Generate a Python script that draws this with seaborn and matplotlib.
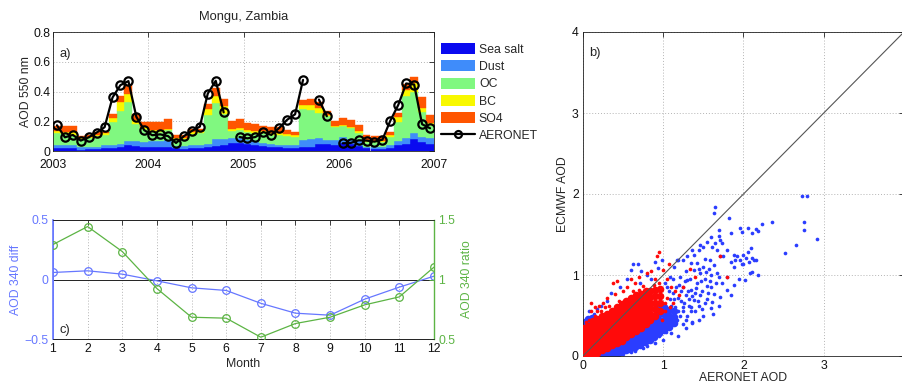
import numpy as np
import pandas as pd
import matplotlib
matplotlib.use("Agg")
import matplotlib.pyplot as plt
import seaborn as sns
from matplotlib.patches import Patch
from matplotlib.lines import Line2D

sns.set_theme(style="white")
plt.rcParams["font.family"] = ["Liberation Sans", "DejaVu Sans"]
plt.rcParams["font.size"] = 8.8

# ---------------- data: panel a (monthly stacked AOD 550, 2003-2006) ----------------
year_ticks = [2003, 2004, 2005, 2006, 2007]
components = ["Sea salt", "Dust", "OC", "BC", "SO4"]
sea_salt = [.020, .020, .020, .010, .012, .015, .020, .020, .030, .040, .035, .030,
            .025, .025, .025, .020, .016, .018, .020, .025, .034, .040, .052, .052,
            .047, .040, .034, .030, .025, .022, .022, .030, .030, .050, .050, .040,
            .056, .047, .034, .018, .016, .016, .022, .040, .047, .080, .063, .050]
dust = [.020, .020, .020, .015, .013, .015, .020, .020, .020, .030, .030, .030,
        .045, .045, .050, .015, .018, .020, .020, .025, .044, .043, .033, .033,
        .027, .030, .022, .017, .018, .018, .016, .046, .050, .035, .024, .034,
        .040, .036, .040, .011, .009, .011, .016, .030, .040, .040, .033, .035]
oc = [.080, .075, .070, .055, .060, .070, .070, .155, .220, .260, .115, .090,
      .060, .060, .065, .040, .044, .076, .083, .190, .242, .167, .050, .056,
      .056, .053, .063, .061, .065, .060, .054, .209, .196, .173, .161, .090,
      .072, .069, .049, .034, .035, .035, .058, .127, .280, .280, .169, .090]
bc = [.015, .010, .015, .010, .010, .010, .010, .030, .060, .050, .030, .010,
      .010, .010, .010, .010, .009, .014, .014, .040, .050, .050, .011, .011,
      .011, .012, .013, .011, .012, .012, .013, .025, .034, .029, .007, .004,
      .009, .012, .009, .007, .006, .006, .009, .029, .045, .055, .022, .011]
so4 = [.030, .040, .040, .010, .010, .015, .010, .025, .040, .065, .040, .035,
       .055, .055, .065, .025, .023, .018, .013, .035, .055, .050, .059, .061,
       .044, .045, .038, .041, .040, .029, .020, .035, .042, .043, .028, .037,
       .045, .046, .041, .035, .034, .032, .025, .032, .040, .040, .073, .056]
aeronet = [.173, .092, .108, .070, .092, .124, .160, .360, .443, .470, .230, .140,
           .106, .112, .100, .054, .100, .135, .164, .386, .472, .260, np.nan, .094,
           .085, .094, .128, .108, .155, .210, .247, .478, np.nan, .346, .234, np.nan,
           .052, .054, .072, .070, .063, .076, .204, .310, .454, .447, .180, .153]
comp_colors = {"Sea salt": "#0a0af0", "Dust": "#3f8cfa", "OC": "#80f880",
               "BC": "#f8f800", "SO4": "#ff5500"}

# ---------------- data: panel c (monthly AOD 340 diff / ratio) ----------------
months = [1, 2, 3, 4, 5, 6, 7, 8, 9, 10, 11, 12]
aod340_diff = [0.059, 0.073, 0.045, -0.011, -0.070, -0.092, -0.200, -0.283, -0.300, -0.165, -0.064, 0.028]
aod340_ratio = [1.294, 1.445, 1.235, 0.924, 0.683, 0.675, 0.515, 0.630, 0.683, 0.787, 0.854, 1.104]

# ---------------- data: panel b (ECMWF vs AERONET AOD scatter) ----------------
one_to_one = [0, 4]
blue_core = [
    (0.17, [0.00, 0.03]), (0.23, [0.01, 0.04, 0.07]), (0.29, [0.01, 0.05, 0.09]),
    (0.35, [0.02, 0.06, 0.10, 0.13]), (0.41, [0.03, 0.07, 0.11, 0.15]),
    (0.47, [0.05, 0.09, 0.13, 0.17]), (0.53, [0.07, 0.11, 0.15, 0.20, 0.24]),
    (0.59, [0.09, 0.13, 0.18, 0.23, 0.27]), (0.65, [0.11, 0.16, 0.21, 0.26, 0.31]),
    (0.71, [0.14, 0.19, 0.24, 0.29, 0.34]), (0.77, [0.17, 0.22, 0.27, 0.32, 0.38]),
    (0.83, [0.20, 0.25, 0.31, 0.37, 0.43]), (0.89, [0.24, 0.29, 0.35, 0.41, 0.47]),
    (0.95, [0.28, 0.33, 0.39, 0.45, 0.52, 0.60]), (1.01, [0.32, 0.38, 0.45, 0.52, 0.60]),
    (1.07, [0.36, 0.43, 0.50, 0.57]), (1.13, [0.41, 0.48, 0.55]),
    (0.02, [0.38, 0.42]), (0.06, [0.42, 0.46]), (0.11, [0.47]),
]
blue_sparse = [
    (2.73, 1.97), (2.79, 1.97), (2.76, 1.65), (2.75, 1.56), (2.92, 1.44), (2.65, 1.37), (2.52, 1.27),
    (1.65, 1.84), (1.63, 1.76), (1.82, 1.70), (2.35, 1.65), (2.23, 1.63), (2.16, 1.57), (2.11, 1.52),
    (2.18, 1.54), (2.05, 1.58), (1.96, 1.58), (1.98, 1.53), (1.84, 1.52), (1.69, 1.55), (1.69, 1.48),
    (1.59, 1.47), (1.55, 1.41), (1.71, 1.43), (1.73, 1.39), (1.65, 1.39), (1.61, 1.35), (1.46, 1.37),
    (1.50, 1.35), (1.44, 1.31), (1.36, 1.31), (1.38, 1.25), (1.30, 1.23), (1.25, 1.19),
    (1.88, 1.25), (1.92, 1.23), (1.96, 1.19), (1.98, 1.14), (1.90, 1.19), (1.99, 1.25), (2.03, 1.21),
    (2.05, 1.29), (2.00, 1.14), (1.88, 1.10), (1.84, 1.16), (2.07, 1.16), (2.09, 1.33), (2.11, 1.21),
    (2.13, 1.19), (2.16, 1.19), (2.11, 1.04), (2.18, 1.00), (2.02, 0.94),
    (1.79, 1.31), (1.75, 1.23), (1.67, 1.31), (1.71, 1.23), (1.58, 1.19), (1.63, 1.12), (1.50, 1.10),
    (1.57, 1.08), (1.46, 1.02), (1.67, 1.02), (1.79, 0.98), (1.73, 0.90), (1.55, 0.86), (1.63, 0.77),
    (1.46, 0.75), (1.71, 0.73), (1.34, 0.82), (1.38, 0.69), (1.25, 0.61), (1.17, 0.45), (1.25, 0.40),
    (1.36, 0.41), (1.79, 0.81), (1.88, 0.88), (1.61, 0.67), (1.59, 0.59), (1.38, 1.06), (1.30, 0.94),
    (1.21, 0.98), (1.17, 1.19), (1.13, 1.10), (1.09, 0.98), (0.90, 1.16), (0.94, 1.09), (0.98, 1.18),
    (1.19, 1.19), (1.05, 0.85), (1.12, 0.78), (1.20, 0.88), (1.28, 0.75), (1.33, 0.95), (1.42, 0.90),
    (1.45, 0.62), (1.52, 0.95), (1.40, 0.55), (1.30, 0.50), (1.22, 0.68), (1.15, 0.60), (1.08, 0.70),
    (1.02, 0.90), (1.35, 0.60), (1.48, 0.80), (1.55, 0.70), (1.25, 0.85), (1.42, 1.15), (1.28, 1.05),
    (1.12, 0.95), (1.52, 1.20), (1.60, 1.00), (1.18, 0.55), (1.32, 0.70), (1.05, 0.45), (1.10, 0.50),
    (1.50, 0.50), (1.60, 0.85), (1.15, 0.40), (1.19, 0.25), (1.36, 0.42), (0.62, 1.13), (0.68, 1.13),
    (0.60, 1.06), (0.72, 1.05), (0.71, 0.90), (0.46, 0.85), (0.35, 0.78), (0.30, 0.68), (0.22, 0.62),
    (0.18, 0.58), (0.14, 0.52), (0.08, 0.56), (0.55, 0.95), (0.80, 1.00), (0.85, 0.95), (1.00, 0.20),
    (0.90, 0.16), (0.80, 0.12), (0.65, 0.06), (0.50, 0.02), (0.40, 0.00), (1.10, 0.28), (1.28, 0.35),
    (1.45, 0.45), (1.62, 0.52), (1.70, 0.62), (1.85, 0.75), (1.95, 0.95), (2.08, 1.02),
    (1.18, 0.72), (1.22, 0.80), (1.26, 0.66), (1.31, 0.80), (1.34, 0.55), (1.39, 0.78), (1.43, 0.68),
    (1.48, 0.58), (1.52, 0.66), (1.56, 0.78), (1.41, 0.84), (1.36, 0.74), (1.27, 0.92), (1.21, 0.50),
    (1.24, 0.56), (1.28, 0.45), (1.32, 0.62), (1.16, 0.85), (1.10, 0.62), (1.14, 0.70), (1.07, 0.80),
    (1.47, 0.92), (1.58, 0.93), (1.66, 0.90), (1.70, 0.98), (1.45, 1.08), (1.53, 1.04), (1.35, 1.15),
    (1.04, 0.30), (0.95, 0.25), (0.85, 0.20), (0.75, 0.10), (0.60, 0.05), (0.45, 0.01),
]
red_core = [
    (0.01, [0.01, 0.06, 0.11, 0.16, 0.21, 0.26, 0.31, 0.35]),
    (0.06, [0.02, 0.07, 0.12, 0.17, 0.22, 0.27, 0.32, 0.37]),
    (0.12, [0.03, 0.08, 0.13, 0.18, 0.23, 0.28, 0.33, 0.39, 0.43]),
    (0.18, [0.04, 0.10, 0.15, 0.20, 0.25, 0.30, 0.35, 0.41, 0.46]),
    (0.24, [0.07, 0.12, 0.17, 0.22, 0.27, 0.32, 0.38, 0.44, 0.49]),
    (0.30, [0.10, 0.15, 0.20, 0.25, 0.30, 0.35, 0.41, 0.47, 0.52]),
    (0.36, [0.13, 0.18, 0.23, 0.28, 0.33, 0.39, 0.45, 0.51, 0.56]),
    (0.42, [0.16, 0.21, 0.26, 0.31, 0.37, 0.43, 0.49, 0.55, 0.60]),
    (0.48, [0.19, 0.24, 0.30, 0.36, 0.42, 0.48, 0.54, 0.60, 0.64]),
    (0.54, [0.23, 0.28, 0.34, 0.40, 0.46, 0.52, 0.58, 0.64, 0.68]),
    (0.60, [0.27, 0.32, 0.38, 0.44, 0.50, 0.56, 0.62, 0.68, 0.72]),
    (0.66, [0.31, 0.36, 0.42, 0.48, 0.54, 0.60, 0.66, 0.72, 0.75]),
    (0.72, [0.35, 0.41, 0.47, 0.53, 0.59, 0.65, 0.71, 0.77]),
    (0.78, [0.40, 0.46, 0.52, 0.58, 0.64, 0.70, 0.76, 0.80]),
    (0.84, [0.45, 0.52, 0.59, 0.66, 0.73, 0.80]),
    (0.90, [0.50, 0.58, 0.66, 0.74, 0.82]),
    (0.96, [0.56, 0.65, 0.74, 0.83]),
]
red_sparse = [
    (0.42, 0.92), (0.37, 0.90), (0.95, 1.28), (0.92, 1.23), (1.07, 1.14), (1.00, 1.06), (1.33, 1.07),
    (1.71, 1.23), (1.79, 0.98), (0.30, 0.72), (0.25, 0.65), (0.20, 0.62), (0.55, 0.85), (0.60, 0.95),
    (0.65, 0.90), (0.70, 0.98), (0.80, 1.02), (0.85, 1.05), (1.05, 0.95), (1.10, 0.85), (1.15, 0.80),
    (1.20, 0.75), (1.05, 0.72), (0.95, 0.90), (0.90, 0.95), (1.12, 0.65), (0.15, 0.60), (0.10, 0.55),
    (0.10, 0.65), (0.40, 0.76), (0.50, 0.80), (1.25, 0.85), (1.40, 0.98), (0.98, 0.45), (1.02, 0.55),
    (1.02, 0.66), (1.08, 0.60), (0.75, 0.86), (0.88, 0.88), (0.62, 0.80), (0.18, 0.55), (0.28, 0.60),
    (0.04, 0.42), (0.08, 0.45), (0.15, 0.50), (0.22, 0.55), (0.33, 0.62), (0.45, 0.68), (0.70, 0.82),
]

# ---------------- figure ----------------
W, H = 903, 383
fig = plt.figure(figsize=(W / 100, H / 100), dpi=100)
grid_kw = dict(color="#b4b4b4", linestyle=(0, (1, 2)), linewidth=0.7)


def style_axes(ax):
    for s in ax.spines.values():
        s.set_color("#222222")
        s.set_linewidth(0.6)
    ax.tick_params(direction="in", length=3.5, width=0.6, colors="#222222",
                   labelcolor="#111111", labelsize=8.8, pad=3)


# ---- panel a ----
ax_a = fig.add_axes([53 / W, 1 - 151 / H, 381 / W, 119 / H])
n = len(sea_salt)
tc = 2003 + (np.arange(n) + 0.5) / 12
bars = pd.DataFrame({
    "t": np.tile(tc, 5),
    "aod": np.concatenate([sea_salt, dust, oc, bc, so4]),
    "comp": np.repeat(components, n),
})
sns.histplot(data=bars, x="t", weights="aod", hue="comp", hue_order=components[::-1],
             multiple="stack", bins=n, binrange=(2003, 2007), palette=comp_colors,
             linewidth=0.3, alpha=1, legend=False, shrink=1, ax=ax_a, zorder=2)
for p in ax_a.patches:
    p.set_edgecolor(p.get_facecolor())

aer = pd.DataFrame({"t": tc, "aod": aeronet})
aer["seg"] = aer["aod"].isna().cumsum()
aer = aer.dropna()
sns.lineplot(data=aer, x="t", y="aod", units="seg", estimator=None, sort=False,
             color="black", linewidth=1.6, marker="o", markersize=6,
             markerfacecolor="none", markeredgecolor="black", markeredgewidth=1.6,
             legend=False, ax=ax_a, zorder=4)
ax_a.set_xlim(2003, 2007)
ax_a.set_ylim(0, 0.8)
ax_a.set_xticks(year_ticks)
ax_a.set_xticklabels([str(y) for y in year_ticks])
ax_a.set_yticks([0, 0.2, 0.4, 0.6, 0.8])
ax_a.set_yticklabels(["0", "0.2", "0.4", "0.6", "0.8"])
ax_a.grid(True, **grid_kw)
ax_a.set_axisbelow(True)
ax_a.set_xlabel("")
ax_a.set_ylabel("AOD 550 nm", fontsize=8.8, labelpad=1)
ax_a.set_title("Mongu, Zambia", fontsize=9.3, pad=9)
ax_a.text(0.018, 0.815, "a)", transform=ax_a.transAxes, fontsize=9.3, va="center")
style_axes(ax_a)
ax_a.tick_params(top=True, right=True)
ax_a.tick_params(axis="x", pad=5.5)
ax_a.tick_params(axis="y", pad=2)

handles = [Patch(facecolor=comp_colors[c], edgecolor="none") for c in components]
handles.append(Line2D([], [], color="black", linewidth=1.6, marker="o", markersize=5,
                      markerfacecolor="none", markeredgecolor="black", markeredgewidth=1.6))
fig.legend(handles, components + ["AERONET"], loc="upper left",
           bbox_to_anchor=(441 / W, 1 - 43 / H), frameon=False, fontsize=8.8,
           handlelength=2.8, handleheight=1.0, handletextpad=0.3, labelspacing=0.38,
           borderpad=0, borderaxespad=0)

# ---- panel c ----
blue_c = "#6677ff"
green_c = "#5cb444"
ax_c = fig.add_axes([53 / W, 1 - 339 / H, 381 / W, 119 / H])
ax_c2 = ax_c.twinx()
ax_c.axhline(0, color="#222222", linewidth=0.7, zorder=1)
sns.lineplot(x=months, y=aod340_diff, color=blue_c, linewidth=0.9, marker="o",
             markersize=5.5, markerfacecolor="none", markeredgecolor=blue_c,
             markeredgewidth=0.9, ax=ax_c, zorder=3)
sns.lineplot(x=months, y=aod340_ratio, color=green_c, linewidth=0.9, marker="o",
             markersize=5.5, markerfacecolor="none", markeredgecolor=green_c,
             markeredgewidth=0.9, ax=ax_c2, zorder=3)
ax_c.set_xlim(1, 12)
ax_c.set_ylim(-0.5, 0.5)
ax_c2.set_ylim(0.5, 1.5)
ax_c.set_xticks(months)
ax_c.set_yticks([-0.5, 0, 0.5])
ax_c.set_yticklabels(["\u22120.5", "0", "0.5"])
ax_c2.set_yticks([0.5, 1, 1.5])
ax_c2.set_yticklabels(["0.5", "1", "1.5"])
ax_c.xaxis.grid(True, **grid_kw)
ax_c.set_axisbelow(True)
ax_c.set_xlabel("Month", fontsize=8.8, labelpad=2)
ax_c.set_ylabel("AOD 340 diff", color=blue_c, fontsize=8.8, labelpad=2)
ax_c2.set_ylabel("AOD 340 ratio", color=green_c, fontsize=8.8, labelpad=4)
ax_c.text(0.018, 0.076, "c)", transform=ax_c.transAxes, fontsize=9.3, va="center")
style_axes(ax_c)
style_axes(ax_c2)
ax_c.tick_params(top=True)
ax_c.tick_params(axis="y", colors=blue_c, labelcolor=blue_c)
ax_c2.tick_params(axis="y", colors=green_c, labelcolor=green_c)
ax_c2.spines["left"].set_color(blue_c)
ax_c2.spines["left"].set_linewidth(1.2)
ax_c2.spines["right"].set_color(green_c)
ax_c2.spines["right"].set_linewidth(1.0)
ax_c.spines["left"].set_color(blue_c)
ax_c.spines["right"].set_color(green_c)

# ---- panel b ----
ax_b = fig.add_axes([583 / W, 1 - 356 / H, 321 / W, 324 / H])
bx = [x for x, ys in blue_core for _ in ys]
by = [y for _, ys in blue_core for y in ys]
rx = [x for x, ys in red_core for _ in ys]
ry = [y for _, ys in red_core for y in ys]
blue_pt = "#2b3dff"
red_pt = "#ff0a0a"
sns.scatterplot(x=bx, y=by, color=blue_pt, s=30, linewidth=0, ax=ax_b, zorder=2)
sns.scatterplot(x=[p[0] for p in blue_sparse], y=[p[1] for p in blue_sparse],
                color=blue_pt, s=7, linewidth=0, ax=ax_b, zorder=2)
sns.scatterplot(x=rx, y=ry, color=red_pt, s=30, linewidth=0, ax=ax_b, zorder=3)
sns.scatterplot(x=[p[0] for p in red_sparse], y=[p[1] for p in red_sparse],
                color=red_pt, s=7, linewidth=0, ax=ax_b, zorder=3)
sns.lineplot(x=one_to_one, y=one_to_one, color="#555555", linewidth=0.8, ax=ax_b, zorder=4)
ax_b.set_xlim(0, 4)
ax_b.set_ylim(0, 4)
ax_b.set_xticks([0, 1, 2, 3, 4])
ax_b.set_xticklabels(["0", "1", "2", "3", ""])
ax_b.set_yticks([0, 1, 2, 3, 4])
ax_b.grid(True, **grid_kw)
ax_b.set_axisbelow(True)
ax_b.set_xlabel("AERONET AOD", fontsize=8.8, labelpad=0)
ax_b.set_ylabel("ECMWF AOD", fontsize=8.8, labelpad=2)
ax_b.text(0.019, 0.935, "b)", transform=ax_b.transAxes, fontsize=9.3, va="center")
style_axes(ax_b)
ax_b.tick_params(top=True, right=True)

fig.savefig("out.png", dpi=100)
